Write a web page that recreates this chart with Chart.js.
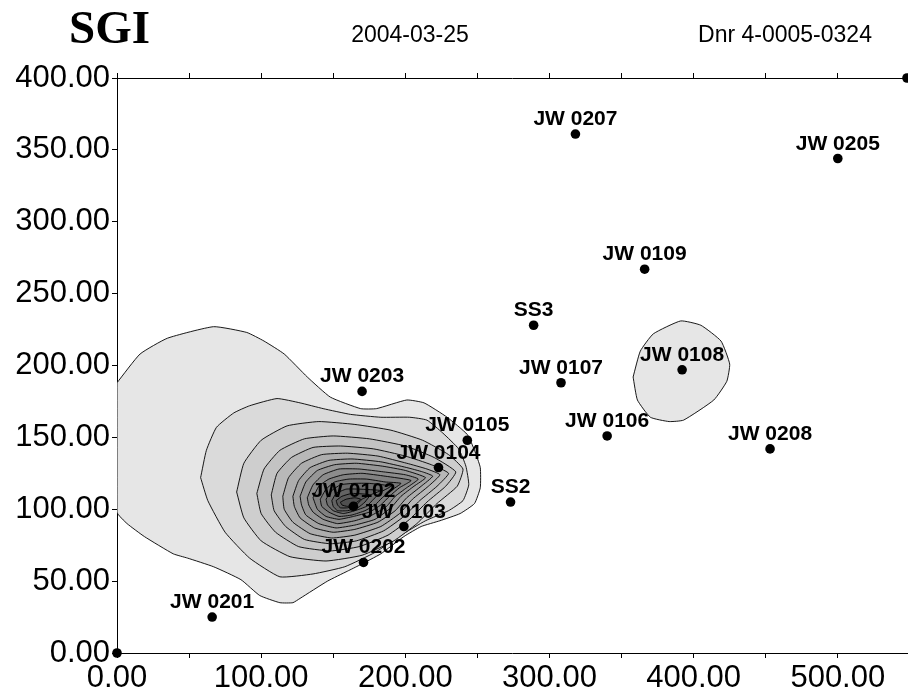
<!DOCTYPE html>
<html>
<head>
<meta charset="utf-8">
<script src="https://cdn.jsdelivr.net/npm/chart.js@4/dist/chart.umd.min.js"></script>
<style>
body{margin:0;background:#fff;overflow:hidden;}
#wrap{width:908px;height:693px;}
canvas{display:block;}
</style>
</head>
<body>
<div id="wrap"><canvas id="contourChart" width="908" height="693"></canvas></div>
<script>

// ===============================
// DATA
// ===============================

const wellNames = ["JW 0201","JW 0202","JW 0102","JW 0103","JW 0104","JW 0105","JW 0203","SS2",
                   "SS3","JW 0107","JW 0106","JW 0108","JW 0109","JW 0207","JW 0208","JW 0205"];
const wellX = [66, 171, 164, 199, 223, 243, 170, 273, 289, 308, 340, 392, 366, 318, 453, 500];
const wellY = [25, 63, 102, 88, 129, 148, 182, 105, 228, 188, 151, 197, 267, 361, 142, 344];

// grid corner markers
const cornerX = [0, 548];
const cornerY = [0, 400];

const xTickValues = [0, 50, 100, 150, 200, 250, 300, 350, 400, 450, 500];
const yTickValues = [0, 50, 100, 150, 200, 250, 300, 350, 400];

const headerTitle = "SGI";
const headerDate = "2004-03-25";
const headerRef = "Dnr 4-0005-0324";

// contour polygons, outer -> inner (x,y pairs)
const contour1 = [[0,188],[16,208],[35,219],[67,227],[90,223],[102,217],[116,208],[132,192],[148,178],[169,170],[180,170],[201,176],[213,174],[229,164],[243,152],[248,141],[252,129],[252,115],[248,104],[238,97],[224,92],[211,88],[199,81],[183,69],[168,61],[160,57],[146,50],[127,38],[122,35],[113,35],[99,40],[86,51],[67,60],[49,66],[39,69],[19,81],[7,90],[0,98]];
const contour2 = [[58,122],[62,141],[69,157],[81,167],[92,172],[111,177],[127,174],[143,170],[162,166],[183,164],[203,164],[215,162],[226,153],[237,142],[242,130],[244,117],[240,106],[230,99],[214,92],[197,82],[179,70],[158,60],[136,55],[113,53],[92,66],[75,84],[63,106]];
const contour3 = [[83,112],[88,132],[100,148],[118,158],[140,161],[165,159],[190,155],[212,148],[230,138],[240,128],[236,116],[222,104],[208,90],[192,78],[170,68],[145,64],[120,67],[100,78],[88,94]];
const contour4 = [[97,111],[102,128],[113,141],[130,149],[150,151],[175,149],[200,144],[220,136],[235,126],[228,116],[215,105],[203,93],[188,82],[168,74],[148,71],[126,74],[110,84],[100,97]];
const contour5 = [[107,110],[111,125],[121,136],[136,143],[155,144],[178,142],[200,137],[218,131],[230,125],[222,116],[210,106],[199,95],[185,85],[166,78],[148,76],[130,79],[117,88],[109,99]];
const contour6 = [[115,109],[119,122],[128,132],[142,138],[160,139],[181,137],[201,132],[215,128],[224,124],[216,116],[205,107],[196,97],[183,88],[165,82],[149,80],[134,83],[122,91],[116,100]];
const contour7 = [[122,109],[126,120],[134,129],[147,134],[163,135],[183,133],[201,129],[212,126],[219,123],[211,116],[201,108],[193,99],[181,91],[165,86],[150,84],[137,87],[127,94],[123,102]];
const contour8 = [[127,109],[131,119],[139,127],[151,131],[166,132],[184,130],[200,127],[214,122],[206,116],[197,109],[190,101],[179,93],[165,89],[152,87],[140,90],[131,96],[128,103]];
const contour9 = [[132,108],[136,117],[143,124],[154,128],[168,128],[185,126],[200,124],[209,121],[201,115],[193,109],[187,102],[177,96],[165,92],[153,90],[143,93],[136,98],[133,103]];
const contour10 = [[136,108],[140,116],[147,121],[157,124],[170,125],[186,123],[204,120],[196,115],[189,109],[183,103],[175,98],[164,95],[154,93],[145,95],[139,100]];
const contour11 = [[141,107],[145,114],[151,119],[161,121],[173,121],[186,119],[197,118],[190,113],[184,108],[179,103],[172,99],[163,96],[154,95],[147,98],[142,102]];
const contour12 = [[145,107],[149,113],[155,117],[164,118],[175,118],[190,116],[183,112],[178,107],[173,102],[165,99],[157,97],[150,99],[146,103]];
const contour13 = [[149,106],[152,111],[159,114],[168,114],[183,113],[176,110],[172,105],[167,101],[160,99],[153,99],[150,102]];
const contour14 = [[152,106],[156,109],[163,111],[176,110],[170,107],[166,103],[160,101],[155,101],[153,103]];
const contour15 = [[155,105],[159,107],[165,108],[169,107],[165,104],[160,102],[156,103]];
// small closed contour around JW 0108
const contour0108 = [[358,192],[363,210],[372,222],[391,231],[405,228],[419,217],[425,201],[423,189],[414,176],[393,162],[383,161],[370,164],[361,176]];

// ===============================
// STYLE
// ===============================

const contours = [contour1, contour0108, contour2, contour3, contour4, contour5, contour6, contour7,
                  contour8, contour9, contour10, contour11, contour12, contour13, contour14, contour15];
const contourFill = ["#e6e6e6", "#e6e6e6", "#dadada", "#cecece", "#c3c3c3", "#b8b8b8", "#adadad", "#a2a2a2",
                     "#979797", "#8c8c8c", "#818181", "#777777", "#6d6d6d", "#636363", "#595959", "#505050"];

const sansFont = "Arial, 'Liberation Sans', sans-serif";

// ===============================
// DATASETS
// ===============================

const datasets = [];

datasets.push({
    label: "wells",
    data: wellX.map((x, i) => ({x: x, y: wellY[i]})),
    pointRadius: 4.8,
    pointBackgroundColor: "#000",
    pointBorderWidth: 0,
    showLine: false,
    clip: false,
    order: 0
});

datasets.push({
    label: "corners",
    data: cornerX.map((x, i) => ({x: x, y: cornerY[i]})),
    pointRadius: 4.8,
    pointBackgroundColor: "#000",
    pointBorderWidth: 0,
    showLine: false,
    clip: false,
    order: 1
});

contours.forEach((poly, k) => {
    const pts = poly.map(p => ({x: p[0], y: p[1]}));
    pts.push({x: poly[0][0], y: poly[0][1]});
    datasets.push({
        label: "c" + k,
        data: pts,
        showLine: true,
        fill: "shape",
        backgroundColor: contourFill[k],
        borderColor: "#000",
        borderWidth: 0.9,
        pointRadius: 0,
        tension: 0.15,
        order: 100 - k
    });
});

// ===============================
// TEXT PLUGIN
// ===============================

const labelPlugin = {
    id: "wellLabels",
    afterDatasetsDraw(chart) {
        const c = chart.ctx;
        const xs = chart.scales.x;
        const ys = chart.scales.y;
        c.save();
        c.fillStyle = "#000";
        c.font = "bold 21px " + sansFont;
        c.textAlign = "center";
        c.textBaseline = "alphabetic";
        wellNames.forEach((n, i) => {
            c.fillText(n, xs.getPixelForValue(wellX[i]), ys.getPixelForValue(wellY[i]) - 9);
        });

        c.textAlign = "left";
        c.font = "bold 47px 'Liberation Serif', 'Times New Roman', serif";
        c.fillText(headerTitle, 69, 43);

        c.textAlign = "center";
        c.font = "23px " + sansFont;
        c.fillText(headerDate, 410, 42);
        c.fillText(headerRef, 785, 42);
        c.restore();
    }
};

// ===============================
// CHART
// ===============================

const ctx = document.getElementById("contourChart").getContext("2d");

// no extra side padding for the x axes, plot runs to the right edge
function fitX(height) {
    return s => {
        s.height = height;
        s.paddingLeft = 0;
        s.paddingRight = 0;
    };
}

const chart = new Chart(ctx, {
    type: "scatter",
    data: {datasets: datasets},
    plugins: [labelPlugin],
    options: {
        responsive: false,
        animation: false,
        events: [],
        layout: {autoPadding: false, padding: {left: 0, right: 1, top: 0, bottom: 0}},
        plugins: {
            legend: {display: false},
            tooltip: {enabled: false}
        },
        scales: {
            x: {
                type: "linear",
                position: "bottom",
                min: 0,
                max: 548,
                afterBuildTicks: s => { s.ticks = xTickValues.map(v => ({value: v})); },
                afterFit: fitX(40),
                ticks: {
                    autoSkip: false,
                    maxRotation: 0,
                    padding: 2,
                    color: "#000",
                    font: {size: 31, family: sansFont},
                    callback: v => (v % 100 === 0 ? v.toFixed(2) : "")
                },
                grid: {drawOnChartArea: false, tickLength: 5, color: "#000"},
                border: {color: "#000", width: 1}
            },
            x2: {
                type: "linear",
                position: "top",
                min: 0,
                max: 548,
                afterBuildTicks: s => { s.ticks = xTickValues.map(v => ({value: v})); },
                afterFit: fitX(78),
                ticks: {display: false},
                grid: {drawOnChartArea: false, tickLength: 5, color: "#000"},
                border: {color: "#000", width: 1}
            },
            y: {
                type: "linear",
                min: 0,
                max: 400,
                afterBuildTicks: s => { s.ticks = yTickValues.map(v => ({value: v})); },
                afterFit: s => { s.width = 117; s.paddingTop = 0; s.paddingBottom = 0; },
                ticks: {
                    padding: 2,
                    color: "#000",
                    font: {size: 31, family: sansFont},
                    callback: v => v.toFixed(2)
                },
                grid: {drawOnChartArea: false, tickLength: 5, color: "#000"},
                border: {color: "#000", width: 1}
            }
        }
    }
});

</script>
</body>
</html>
